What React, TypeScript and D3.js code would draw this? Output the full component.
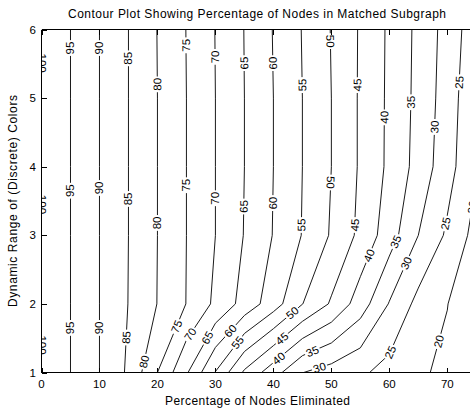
import React from "react";
import * as d3 from "d3";

// ---- data (grid sampled at x = 0:5:75, y = 1:6) ----
const xGrid = [0, 5, 10, 15, 20, 25, 30, 35, 40, 45, 50, 55, 60, 65, 70, 75];
const yGrid = [1, 2, 3, 4, 5, 6];
const zRow1 = [100, 95, 90, 84.2, 75, 65.6, 54.8, 44.2, 37.1, 30.1, 27.9, 25.8, 23.3, 20.7, 19.0, 17.5];
const zRow2 = [100, 95, 90, 84.9, 79.9, 74.9, 69.0, 63.2, 57.3, 50.1, 44.4, 37.5, 29.7, 23.5, 20.1, 16.2];
const zRow3 = [100, 95, 90, 85, 80, 75, 70, 64.8, 59.8, 54.8, 49.5, 43.8, 37.3, 30.0, 24.2, 18.2];
const zRow4 = [100, 95, 90, 85, 80, 75, 70, 65, 60, 55, 50, 44.4, 39.0, 33.2, 26.9, 20.5];
const zRow5 = [100, 95, 90, 85, 80, 75, 70, 65, 60, 55, 50, 44.4, 39.1, 33.6, 27.6, 20.8];
const zRow6 = [100, 95, 90, 85, 79.9, 74.9, 69.9, 64.9, 59.8, 54.8, 49.8, 44.5, 39.2, 33.8, 28.1, 21.9];
const levels = [20, 25, 30, 35, 40, 45, 50, 55, 60, 65, 70, 75, 80, 85, 90, 95, 100];

// contour label anchors (data coords), down = reads top-to-bottom when vertical
const labelLevel = [100, 100, 100, 95, 95, 95, 90, 90, 90, 85, 85, 85, 80, 80, 80, 75, 75, 75, 70, 70, 70, 65, 65, 65, 60, 60, 60, 55, 55, 55, 50, 50, 50, 45, 45, 45, 40, 40, 40, 35, 35, 35, 30, 30, 30, 25, 25, 25, 20, 20];
const labelX = [0, 0, 0, 5.04, 5.04, 5.04, 10.09, 10.09, 10.09, 14.97, 14.97, 14.58, 19.87, 19.87, 18.15, 24.93, 24.93, 23.89, 29.93, 30.1, 26.13, 34.93, 34.93, 29.41, 39.76, 39.76, 32.81, 44.76, 44.76, 33.9, 49.77, 49.77, 43.16, 54.6, 54.08, 41.31, 59.25, 56.37, 40.79, 63.57, 61.27, 46.61, 67.88, 63.0, 47.7, 72.07, 69.9, 59.77, 74.26, 68.23];
const labelY = [5.51, 3.45, 1.4, 5.73, 3.65, 1.65, 5.73, 3.69, 1.65, 5.58, 3.53, 1.51, 5.2, 3.18, 1.15, 5.77, 3.73, 1.65, 5.6, 3.54, 1.53, 5.51, 3.42, 1.47, 5.51, 3.47, 1.59, 5.19, 3.15, 1.43, 5.83, 3.77, 1.88, 5.19, 3.15, 1.51, 4.72, 2.71, 1.22, 4.94, 2.9, 1.33, 4.58, 2.59, 1.14, 5.23, 3.17, 1.31, 3.41, 1.46];
const labelDown = [1, 1, 1, 0, 0, 0, 0, 0, 0, 0, 0, 0, 0, 0, 0, 0, 0, 0, 0, 0, 0, 0, 0, 0, 0, 0, 0, 0, 0, 0, 1, 1, 1, 0, 0, 0, 0, 0, 0, 0, 0, 0, 0, 0, 0, 0, 0, 0, 0, 0];

const xTicks = [0, 10, 20, 30, 40, 50, 60, 70];
const yTicks = [1, 2, 3, 4, 5, 6];

const titleText = "Contour Plot Showing Percentage of Nodes in Matched Subgraph";
const xLabelText = "Percentage of Nodes Eliminated";
const yLabelText = "Dynamic Range of (Discrete) Colors";

type Pt = [number, number];
const zGrid = [zRow1, zRow2, zRow3, zRow4, zRow5, zRow6];

function isolines(level: number): Pt[][] {
  const segs: [Pt, Pt][] = [];
  const interp = (x0: number, y0: number, v0: number, x1: number, y1: number, v1: number): Pt => {
    const t = (level - v0) / (v1 - v0);
    return [x0 + t * (x1 - x0), y0 + t * (y1 - y0)];
  };
  for (let j = 0; j < yGrid.length - 1; j++) {
    for (let i = 0; i < xGrid.length - 1; i++) {
      const x0 = xGrid[i], x1 = xGrid[i + 1], y0 = yGrid[j], y1 = yGrid[j + 1];
      const a = zGrid[j][i], b = zGrid[j][i + 1], c = zGrid[j + 1][i + 1], d = zGrid[j + 1][i];
      const A = a >= level, B = b >= level, C = c >= level, D = d >= level;
      const eb = A !== B ? interp(x0, y0, a, x1, y0, b) : null;
      const er = B !== C ? interp(x1, y0, b, x1, y1, c) : null;
      const et = D !== C ? interp(x0, y1, d, x1, y1, c) : null;
      const el = A !== D ? interp(x0, y0, a, x0, y1, d) : null;
      const list = [eb, er, et, el].filter((p) => p) as Pt[];
      if (list.length === 2) segs.push([list[0], list[1]]);
      else if (list.length === 4) {
        const center = (a + b + c + d) / 4 >= level;
        if (center === A) {
          segs.push([eb as Pt, er as Pt]);
          segs.push([et as Pt, el as Pt]);
        } else {
          segs.push([eb as Pt, el as Pt]);
          segs.push([er as Pt, et as Pt]);
        }
      }
    }
  }
  // chain segments
  const key = (p: Pt) => p[0].toFixed(6) + "," + p[1].toFixed(6);
  const map = new Map<string, number[]>();
  segs.forEach((s, idx) => {
    s.forEach((p) => {
      const k = key(p);
      if (!map.has(k)) map.set(k, []);
      map.get(k)!.push(idx);
    });
  });
  const used = new Array(segs.length).fill(false);
  const lines: Pt[][] = [];
  const extend = (line: Pt[]) => {
    for (;;) {
      const end = line[line.length - 1];
      const cands = map.get(key(end)) || [];
      const nxt = cands.find((ci) => !used[ci]);
      if (nxt === undefined) break;
      used[nxt] = true;
      const s = segs[nxt];
      line.push(key(s[0]) === key(end) ? s[1] : s[0]);
    }
  };
  segs.forEach((s, idx) => {
    if (used[idx]) return;
    used[idx] = true;
    const line: Pt[] = [s[0], s[1]];
    extend(line);
    line.reverse();
    extend(line);
    lines.push(line);
  });
  return lines;
}

const x = d3.scaleLinear().domain([0, 75]).range([41.5, 476.3]);
const y = d3.scaleLinear().domain([1, 6]).range([372.5, 29.5]);

const FONT = "'Liberation Sans', Arial, Helvetica, sans-serif";

export default function App() {
  const lineGen = d3.line<Pt>().x((d) => x(d[0])).y((d) => y(d[1]));
  const contourSets = levels.map((lv) => ({ level: lv, lines: isolines(lv) }));

  const labels = labelLevel.map((lv, k) => {
    const set = contourSets.find((s) => s.level === lv)!;
    const px = x(labelX[k]), py = y(labelY[k]);
    let best = { d: Infinity, x: px, y: py, ang: -90 };
    set.lines.forEach((ln) => {
      for (let i = 0; i < ln.length - 1; i++) {
        const ax = x(ln[i][0]), ay = y(ln[i][1]), bx = x(ln[i + 1][0]), by = y(ln[i + 1][1]);
        const dx = bx - ax, dy = by - ay;
        const L2 = dx * dx + dy * dy;
        if (L2 < 1e-9) continue;
        let t = ((px - ax) * dx + (py - ay) * dy) / L2;
        t = Math.max(0, Math.min(1, t));
        const qx = ax + t * dx, qy = ay + t * dy;
        const dd = (qx - px) ** 2 + (qy - py) ** 2;
        if (dd < best.d) best = { d: dd, x: qx, y: qy, ang: (Math.atan2(dy, dx) * 180) / Math.PI };
      }
    });
    let a = best.ang;
    if (a > 90) a -= 180;
    if (a <= -90) a += 180;
    if (Math.abs(a) > 75) {
      if (labelDown[k]) {
        if (a < 0) a += 180;
      } else {
        if (a > 0) a -= 180;
      }
    }
    const txt = String(lv);
    const len = txt.length * 6.4;
    return { x: best.x, y: best.y, ang: a, txt, len };
  });

  return (
    <svg
      width={470}
      height={409}
      style={{ position: "absolute", left: 0, top: 0, background: "#fff" }}
      fontFamily={FONT}
    >
      <defs>
        <clipPath id="plotClip">
          <rect x={x(0)} y={y(6)} width={x(75) - x(0)} height={y(1) - y(6)} />
        </clipPath>
      </defs>
      <rect x={0} y={0} width={470} height={409} fill="#fff" />
      <g clipPath="url(#plotClip)">
        {contourSets.map((s) =>
          s.lines.map((ln, i) => (
            <path key={s.level + "-" + i} d={lineGen(ln) || ""} fill="none" stroke="#1a1a1a" strokeWidth={1} />
          ))
        )}
        {labels.map((l, i) => (
          <g key={"lab" + i} transform={`translate(${l.x},${l.y}) rotate(${l.ang})`}>
            <rect x={-l.len / 2 - 1.5} y={-4} width={l.len + 3} height={8} fill="#fff" />
            <text
              x={0}
              y={0}
              dy="0.36em"
              textAnchor="middle"
              fontSize={11}
              fill="#000"
              textLength={l.len}
              lengthAdjust="spacingAndGlyphs"
            >
              {l.txt}
            </text>
          </g>
        ))}
      </g>
      {/* axes box */}
      <g stroke="#000" strokeWidth={1} fill="none" shapeRendering="crispEdges">
        <line x1={x(0)} x2={x(75)} y1={y(1)} y2={y(1)} />
        <line x1={x(0)} x2={x(75)} y1={y(6)} y2={y(6)} />
        <line x1={x(0)} x2={x(0)} y1={y(1)} y2={y(6)} />
        <line x1={x(75)} x2={x(75)} y1={y(1)} y2={y(6)} />
        {xTicks.map((t) => (
          <g key={"xt" + t}>
            <line x1={Math.round(x(t)) + 0.5} x2={Math.round(x(t)) + 0.5} y1={y(1)} y2={y(1) - 5} />
            <line x1={Math.round(x(t)) + 0.5} x2={Math.round(x(t)) + 0.5} y1={y(6)} y2={y(6) + 5} />
          </g>
        ))}
        {yTicks.map((t) => (
          <line key={"yt" + t} x1={x(0)} x2={x(0) + 5} y1={Math.round(y(t)) + 0.5} y2={Math.round(y(t)) + 0.5} />
        ))}
      </g>
      {xTicks.map((t) => (
        <text key={"xl" + t} x={x(t)} y={388} textAnchor="middle" fontSize={11.5} fill="#000">
          {t}
        </text>
      ))}
      {yTicks.map((t) => (
        <text key={"yl" + t} x={36} y={y(t) + 4} textAnchor="end" fontSize={11.5} fill="#000">
          {t}
        </text>
      ))}
      <text x={257} y={18} textAnchor="middle" fontSize={12} fill="#000" textLength={378}>
        {titleText}
      </text>
      <text x={257.5} y={405} textAnchor="middle" fontSize={12} fill="#000" textLength={185}>
        {xLabelText}
      </text>
      <text
        transform="translate(17,201) rotate(-90)"
        textAnchor="middle"
        fontSize={12}
        fill="#000"
        textLength={212}
      >
        {yLabelText}
      </text>
    </svg>
  );
}
